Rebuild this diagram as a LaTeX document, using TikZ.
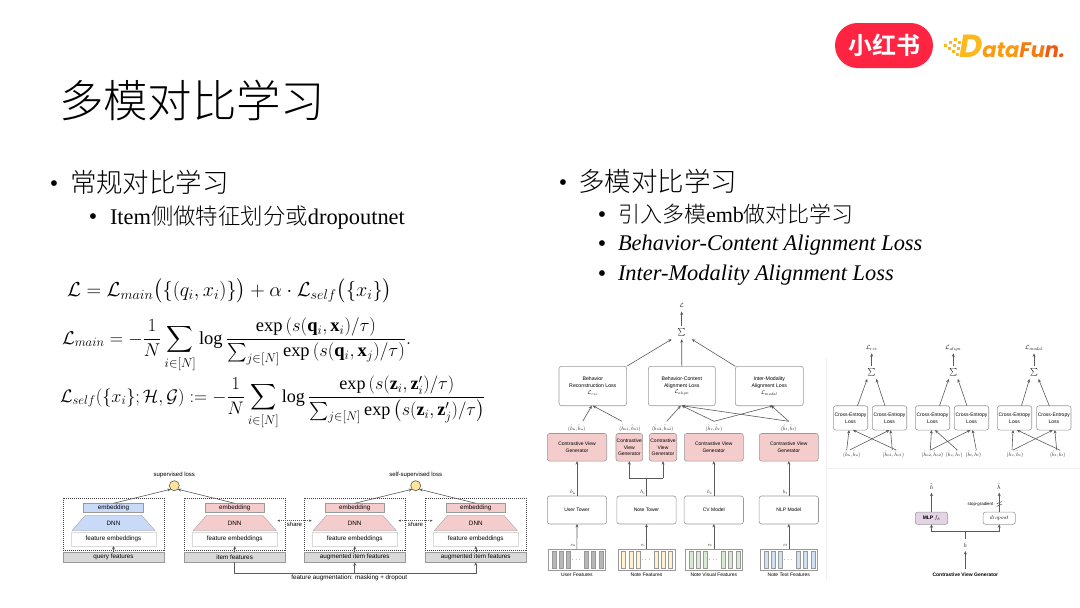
\documentclass[tikz,border=0pt]{standalone}
\usepackage{amsmath}
\usepackage{fontspec}
\setmainfont{Liberation Serif}
\newfontfamily\cjk{Noto Sans CJK SC Light}
\newfontfamily\cjkbold{Noto Sans CJK SC Bold}
\newfontfamily\diagramfont{Liberation Sans}
\newfontfamily\logofont{Poppins}
\usetikzlibrary{positioning,arrows.meta,calc,shapes.geometric}
\definecolor{logoRed}{HTML}{FF2442}
\definecolor{logoGold}{HTML}{FBB91E}
\definecolor{logoAmber}{HTML}{F99A10}
\definecolor{logoOrange}{HTML}{F47B10}
\definecolor{logoDeep}{HTML}{EE5A10}
\definecolor{lineGray}{HTML}{5A5A5A}
\definecolor{boxGray}{HTML}{999999}
\definecolor{featGray}{HTML}{D9D9D9}
\definecolor{towerBlue}{HTML}{C9DAF8}
\definecolor{towerPink}{HTML}{F4CCCC}
\definecolor{lossYellow}{HTML}{FFE599}
\definecolor{mlpPurple}{HTML}{E3D3E4}
\definecolor{barGray}{HTML}{B7B7B7}
\definecolor{barYellow}{HTML}{FFF2CC}
\definecolor{barGreen}{HTML}{D9EAD3}
\definecolor{barBlue}{HTML}{CFE2F3}
\definecolor{rulePale}{HTML}{EFEFEF}
\newcommand{\smallmath}[2]{\scalebox{#1}{\fontsize{10}{12}\selectfont$#2$}}

\begin{document}
\begin{tikzpicture}[
  x=1pt,
  y=-1pt,
  every node/.style={inner sep=0pt, outer sep=0pt},
  title/.style={anchor=base west, font=\fontsize{44.4}{50}\selectfont\cjk},
  head/.style={anchor=base west, font=\fontsize{26.5}{30}\selectfont\cjk},
  sub/.style={anchor=base west, font=\fontsize{22.4}{26}\selectfont},
  dotmark/.style={anchor=center, font=\fontsize{24}{28}\selectfont},
  eqn/.style={anchor=west, font=\fontsize{17.28}{20}\selectfont, transform shape},
  tiny/.style={font=\fontsize{5}{6.8}\selectfont\diagramfont, align=center},
  small/.style={font=\fontsize{6}{7}\selectfont\diagramfont, align=center},
  mathlab/.style={font=\fontsize{10}{12}\selectfont, scale=0.5, transform shape},
  pairlab/.style={mathlab, minimum height=28pt},
  inlab/.style={mathlab, minimum height=17pt},
  losslab/.style={font=\fontsize{10}{12}\selectfont, scale=0.6, transform shape, minimum height=17pt},
  sumsign/.style={font=\fontsize{10}{12}\selectfont, scale=0.75, transform shape},
  embed/.style={draw=boxGray, line width=0.6pt, minimum width=59.7pt, minimum height=9pt, font=\fontsize{6.3}{7.6}\selectfont\diagramfont},
  dnn/.style={trapezium, trapezium stretches=true, trapezium left angle=53, trapezium right angle=53, draw=boxGray, line width=0.3pt,
    minimum width=83.3pt, minimum height=15.4pt, font=\fontsize{6.3}{7.6}\selectfont\diagramfont},
  featemb/.style={draw=featGray, fill=white, line width=0.7pt, minimum width=85pt, minimum height=13.7pt, font=\fontsize{6.3}{7.6}\selectfont\diagramfont},
  input/.style={draw=boxGray, fill=featGray, line width=0.4pt, minimum width=100.7pt, minimum height=10pt, font=\fontsize{6.3}{7.6}\selectfont\diagramfont},
  dashbox/.style={draw=black!75, dashed, dash pattern=on 1pt off 1pt, line width=0.5pt, minimum width=100.7pt, minimum height=52.3pt},
  lossdot/.style={circle, draw=lineGray, fill=lossYellow, line width=0.6pt, minimum size=10pt},
  rbox/.style={rounded corners=2.5pt, draw=boxGray, fill=white, line width=0.6pt, align=center, font=\fontsize{5}{6.8}\selectfont\diagramfont},
  genbox/.style={rounded corners=2.5pt, draw=boxGray, fill=towerPink, line width=0.6pt, align=center, minimum height=27.7pt, font=\fontsize{5}{6.8}\selectfont\diagramfont},
  losspanel/.style={rbox, minimum height=39.4pt, font=\fontsize{5.2}{6.8}\selectfont\diagramfont},
  towerbox/.style={rbox, minimum width=59.3pt, minimum height=28pt},
  cebox/.style={rbox, minimum width=34.4pt, minimum height=24.3pt},
  featbox/.style={draw=boxGray, fill=white, line width=0.6pt, minimum width=57.4pt, minimum height=20.7pt},
  arrow/.style={-{Stealth[length=3.4pt,width=3pt]}, line width=0.6pt, draw=lineGray},
  link/.style={line width=0.6pt, draw=lineGray},
  sharearrow/.style={{Stealth[length=2.5pt,width=2.2pt]}-{Stealth[length=2.5pt,width=2.2pt]}, dashed, dash pattern=on 1pt off 1pt, line width=0.5pt, draw=lineGray}
]
\useasboundingbox (0,0) rectangle (1080,608);

\node[rounded corners=22.5pt, fill=logoRed, minimum width=98pt, minimum height=45pt, text=white, font=\fontsize{24}{28}\selectfont\cjkbold] (redlogo) at (884,45.5) {小红书};
\node[anchor=base west, font=\fontsize{21}{28}\selectfont\logofont\bfseries\itshape] (datalogo) at (959,57) {\textcolor{logoGold}{\fontsize{32}{28}\selectfont D}\textcolor{logoAmber}{a}\textcolor{logoAmber}{t}\textcolor{logoAmber}{a}\textcolor{logoOrange}{F}\textcolor{logoOrange}{u}\textcolor{logoDeep}{n}\textcolor{logoDeep}{.}};
\foreach \dotx/\doty in {944/44,949/41,954/38,948/47,953/44,958/41,952/50,957/47,956/53}
  \fill[logoGold] (\dotx,\doty) rectangle ++(2.8,2.8);

\node[title] (pagetitle) at (59,117) {多模对比学习};

\node[dotmark] (dotL) at (54,186.5) {•};
\node[head] (headL) at (70,192) {常规对比学习};
\node[dotmark] (dotLa) at (93,219.5) {•};
\node[sub] (subL) at (110,224) {Item{\cjk 侧做特征划分或}dropoutnet};

\node[dotmark] (dotR) at (563,185.5) {•};
\node[head] (headR) at (578,191) {多模对比学习};
\node[dotmark] (dotRa) at (602,217.5) {•};
\node[sub, font=\fontsize{22}{26}\selectfont] (subRa) at (618,222) {{\cjk 引入多模}emb{\cjk 做对比学习}};
\node[dotmark] (dotRb) at (602,246.5) {•};
\node[sub] (subRb) at (618,250) {\itshape Behavior-Content Alignment Loss};
\node[dotmark] (dotRc) at (602,276.5) {•};
\node[sub] (subRc) at (618,280) {\itshape Inter-Modality Alignment Loss};

\node[eqn, scale=1.17] (eqA) at (67,291) {$\displaystyle \mathcal{L}=\mathcal{L}_{main}\bigl(\{(q_i,x_i)\}\bigr)+\alpha\cdot\mathcal{L}_{self}\bigl(\{x_i\}\bigr)$};
\node[eqn, scale=1.07] (eqB) at (62,345) {$\displaystyle \mathcal{L}_{main}=-\frac{1}{N}\sum_{i\in[N]}\log\frac{\exp\left(s(\mathbf{q}_i,\mathbf{x}_i)/\tau\right)}{\sum_{j\in[N]}\exp\left(s(\mathbf{q}_i,\mathbf{x}_j)/\tau\right)}.$};
\node[eqn, scale=1.05] (eqC) at (60,403) {$\displaystyle \mathcal{L}_{self}(\{x_i\};\mathcal{H},\mathcal{G}):=-\frac{1}{N}\sum_{i\in[N]}\log\frac{\exp\left(s(\mathbf{z}_i,\mathbf{z}'_i)/\tau\right)}{\sum_{j\in[N]}\exp\left(s(\mathbf{z}_i,\mathbf{z}'_j)/\tau\right)}$};

\node[small] (suplab) at (174.3,475.3) {supervised loss};
\node[small] (selflab) at (415.7,475.3) {self-supervised loss};
\node[lossdot] (supdot) at (174.3,485.7) {};
\node[lossdot] (selfdot) at (415.7,485.7) {};

\foreach \tw/\cx/\tcol/\intext in {q/113.5/towerBlue/query features,i/234.7/towerPink/item features,a/354.7/towerPink/augmented item features,b/475.8/towerPink/augmented item features}{
  \node[dashbox] (box\tw) at (\cx,524.2) {};
  \node[embed, fill=\tcol] (emb\tw) at (\cx,507.8) {embedding};
  \node[dnn, fill=\tcol] (dnn\tw) at (\cx,523) {DNN};
  \node[featemb] (fe\tw) at (\cx,539.2) {feature embeddings};
  \node[input] (in\tw) at (\cx,557.3) {\intext};
  \draw[arrow] (in\tw.north) -- (fe\tw.south);
}

\draw[arrow] (embq.north) -- (supdot.south west);
\draw[arrow] (embi.north) -- (supdot.south east);
\draw[arrow] (emba.north) -- (selfdot.south west);
\draw[arrow] (embb.north) -- (selfdot.south east);

\coordinate (shareAl) at (277.3,520.7);
\coordinate (shareAr) at (311.7,520.7);
\coordinate (shareBl) at (398.3,520.7);
\coordinate (shareBr) at (432.7,520.7);
\draw[sharearrow] (shareAl) -- (shareAr);
\draw[sharearrow] (shareBl) -- (shareBr);
\node[small] (shareAlab) at (294.5,524.6) {share};
\node[small] (shareBlab) at (415.5,524.6) {share};

\coordinate (augturn) at (234.7,573.7);
\draw[link] (ini.south) -- (augturn) -- (augturn -| inb.south);
\draw[arrow] (augturn -| ina.south) -- (ina.south);
\draw[arrow] (augturn -| inb.south) -- (inb.south);
\node[small, font=\fontsize{6.3}{7}\selectfont\diagramfont] (auglab) at (349.3,577.5) {feature augmentation: masking + dropout};

\node[losslab, minimum height=22pt] (totalloss) at (681.7,305) {$\mathcal{L}$};
\node[sumsign, minimum width=27pt, minimum height=17.5pt] (sumtop) at (681.7,332.7) {$\sum$};
\node[losspanel, minimum width=67.7pt] (recon) at (592.8,386) {Behavior\\Reconstruction Loss\\\smallmath{0.55}{\mathcal{L}_{rec}}};
\node[losspanel, minimum width=67pt] (align) at (681.8,386) {Behavior-Content\\Alignment Loss\\\smallmath{0.55}{\mathcal{L}_{align}}};
\node[losspanel, minimum width=68pt] (modal) at (769.3,386) {Inter-Modality\\Alignment Loss\\\smallmath{0.55}{\mathcal{L}_{modal}}};

\draw[arrow] (sumtop.north) -- (totalloss.south);
\draw[arrow] (recon.north east) -- (sumtop.south west);
\draw[arrow] (align.north) -- (sumtop.south);
\draw[arrow] (modal.north west) -- (sumtop.south east);

\node[genbox, minimum width=59.4pt] (genU) at (577,447.3) {Contrastive View\\Generator};
\node[genbox, minimum width=26.7pt] (genA) at (629.3,447.3) {Contrastive\\View\\Generator};
\node[genbox, minimum width=27.4pt] (genB) at (663,447.3) {Contrastive\\View\\Generator};
\node[genbox, minimum width=59pt] (genV) at (713.8,447.3) {Contrastive View\\Generator};
\node[genbox, minimum width=59pt] (genT) at (788.8,447.3) {Contrastive View\\Generator};

\node[pairlab] (pairU) at (576.7,428.3) {$(\hat{h}_u,\tilde{h}_u)$};
\node[pairlab] (pairA) at (630,428.3) {$(\hat{h}_{n1},\tilde{h}_{n1})$};
\node[pairlab] (pairB) at (662.7,428.3) {$(\hat{h}_{n2},\tilde{h}_{n2})$};
\node[pairlab] (pairV) at (714,428.3) {$(\hat{h}_v,\tilde{h}_v)$};
\node[pairlab] (pairT) at (788.7,428.3) {$(\hat{h}_t,\tilde{h}_t)$};

\draw[arrow] ([xshift=6pt]pairU.north) -- ([xshift=-1pt]recon.south);
\draw[arrow] ([xshift=-8pt]pairA.north) -- (recon.south);
\draw[arrow] ([xshift=4pt]pairB.north) -- ([xshift=-1pt]align.south);
\draw[arrow] (pairV.north) -- (align.south);
\draw[arrow] (pairV.north) -- ([xshift=4pt]modal.south);
\draw[arrow] (pairT.north) -- (align.south);
\draw[arrow] (pairT.north) -- ([xshift=2pt]modal.south);

\node[towerbox] (towerU) at (577,510) {User Tower};
\node[towerbox] (towerN) at (646.5,510) {Note Tower};
\node[towerbox] (towerV) at (713.8,510) {CV Model};
\node[towerbox] (towerT) at (788.8,510) {NLP Model};

\coordinate (branch) at (646.5,478.3);
\draw[arrow] (towerU.north) -- (genU.south);
\draw[link] (towerN.north) -- (branch);
\draw[arrow] (branch -| genA.south) -- (genA.south);
\draw[arrow] (branch -| genB.south) -- (genB.south);
\draw[link] (branch -| genA.south) -- (branch -| genB.south);
\draw[arrow] (towerV.north) -- (genV.south);
\draw[arrow] (towerT.north) -- (genT.south);

\node[mathlab, anchor=east] (hU) at (575.5,492.3) {$h_u$};
\node[mathlab, anchor=east] (hN) at (645,492.3) {$h_i$};
\node[mathlab, anchor=east] (hV) at (712.5,492.3) {$h_v$};
\node[mathlab, anchor=east] (hT) at (787.5,492.3) {$h_t$};

\node[featbox] (featU) at (576.9,559.7) {};
\node[featbox] (featN) at (646.5,559.7) {};
\node[featbox] (featV) at (713.8,559.7) {};
\node[featbox] (featT) at (788.8,559.7) {};
\foreach \feat/\barcol in {featU/barGray,featN/barYellow,featV/barGreen,featT/barBlue}{
  \node[font=\fontsize{6}{7}\selectfont] (\feat dots) at (\feat.center) {$\cdots$};
  \foreach \off in {3.7,11,18.3,36,43.3,50.7}
    \draw[draw=boxGray, fill=\barcol, line width=0.35pt] ($(\feat.west)+(\off,-8.2)$) rectangle ++(4,16.4);
}

\draw[arrow] (featU.north) -- (towerU.south);
\draw[arrow] (featN.north) -- (towerN.south);
\draw[arrow] (featV.north) -- (towerV.south);
\draw[arrow] (featT.north) -- (towerT.south);

\node[mathlab, anchor=east] (eU) at (575.5,545.5) {$e_u$};
\node[mathlab, anchor=east] (eN) at (645,545.5) {$e_i$};
\node[mathlab, anchor=east] (eV) at (712.5,545.5) {$e_v$};
\node[mathlab, anchor=east] (eT) at (787.5,545.5) {$e_t$};

\node[tiny] (featUlab) at (576.9,575) {User Features};
\node[tiny] (featNlab) at (646.5,575) {Note Features};
\node[tiny] (featVlab) at (713.8,575) {Note Visual Features};
\node[tiny] (featTlab) at (788.8,575) {Note Text Features};

\coordinate (ruleTop) at (826.5,358);
\coordinate (ruleBot) at (826.5,580);
\coordinate (ruleMid) at (826.5,468.3);
\coordinate (ruleEnd) at (1080,468.3);
\draw[rulePale, line width=0.8pt] (ruleTop) -- (ruleBot);
\draw[rulePale, line width=0.8pt] (ruleMid) -- (ruleEnd);

\foreach \gr/\cx/\tx in {A/871.7/rec,B/953.3/align,C/1034/modal}{
  \node[losslab] (loss\gr) at (\cx,348.3) {$\mathcal{L}_{\tx}$};
  \node[sumsign, minimum width=12pt, minimum height=16.8pt] (sum\gr) at (\cx,372.7) {$\sum$};
  \draw[arrow] (sum\gr.north) -- (loss\gr.south);
}

\node[cebox] (ceAa) at (850.5,417.9) {Cross-Entropy\\Loss};
\node[cebox] (ceAb) at (889.5,417.9) {Cross-Entropy\\Loss};
\node[cebox] (ceBa) at (932.5,417.9) {Cross-Entropy\\Loss};
\node[cebox] (ceBb) at (971.5,417.9) {Cross-Entropy\\Loss};
\node[cebox] (ceCa) at (1014.5,417.9) {Cross-Entropy\\Loss};
\node[cebox] (ceCb) at (1053.8,417.9) {Cross-Entropy\\Loss};

\foreach \gr in {A,B,C}{
  \draw[arrow] ([xshift=7pt]ce\gr a.north) -- (sum\gr.south west);
  \draw[arrow] ([xshift=-4.5pt]ce\gr b.north) -- (sum\gr.south east);
}

\node[inlab] (inAa) at (851.7,454.3) {$(\hat{h}_u,\tilde{h}_u)$};
\node[inlab] (inAb) at (893.3,454.3) {$(\hat{h}_{n1},\tilde{h}_{n1})$};
\node[inlab] (inBa) at (932.3,454.3) {$(\hat{h}_{n2},\tilde{h}_{n2})$};
\node[inlab] (inBb) at (954.3,454.3) {$(\hat{h}_v,\tilde{h}_v)$};
\node[inlab] (inBc) at (973.3,454.3) {$(\hat{h}_t,\tilde{h}_t)$};
\node[inlab] (inCa) at (1015,454.3) {$(\hat{h}_v,\tilde{h}_v)$};
\node[inlab] (inCb) at (1057.7,454.3) {$(\hat{h}_t,\tilde{h}_t)$};

\draw[arrow] ([xshift=-5pt]inAa.north) -- ([xshift=-1.5pt]ceAa.south);
\draw[arrow] ([xshift=-2pt]inAa.north) -- (ceAb.south);
\draw[arrow] ([xshift=3pt]inAb.north) -- ([xshift=2.5pt]ceAa.south);
\draw[arrow] ([xshift=-1pt]inAb.north) -- ([xshift=1pt]ceAb.south);
\draw[arrow] ([xshift=-2pt]inBa.north) -- ([xshift=-1pt]ceBa.south);
\draw[arrow] ([xshift=-2pt]inBa.north) -- ([xshift=-1pt]ceBb.south);
\draw[arrow] ([xshift=3pt]inBb.north) -- ([xshift=2.5pt]ceBa.south);
\draw[arrow] ([xshift=3pt]inBc.north) -- ([xshift=1pt]ceBb.south);
\draw[arrow] ([xshift=-3pt]inCa.north) -- ([xshift=-1.5pt]ceCa.south);
\draw[arrow] ([xshift=-2pt]inCa.north) -- ([xshift=-1pt]ceCb.south);
\draw[arrow] ([xshift=2pt]inCb.north) -- ([xshift=2.5pt]ceCa.south);
\draw[arrow] ([xshift=-1pt]inCb.north) -- ([xshift=1pt]ceCb.south);

\node[rbox, fill=mlpPurple, minimum width=32.4pt, minimum height=12.3pt, font=\fontsize{5}{6}\selectfont\diagramfont\bfseries] (mlp) at (931.5,518.2) {MLP \smallmath{0.55}{f_h}};
\node[rbox, minimum width=32.3pt, minimum height=12.3pt] (dropbox) at (999.2,518.2) {\smallmath{0.55}{dropout}};
\node[losslab, minimum height=20pt] (htilde) at (931.5,486.7) {$\tilde{h}$};
\node[losslab, minimum height=20pt] (hhat) at (999.2,486.7) {$\hat{h}$};
\node[losslab, minimum height=20pt] (hin) at (965.3,545) {$h$};
\node[tiny, font=\fontsize{4.4}{5}\selectfont\diagramfont] (stoplab) at (980.5,504.3) {stop-gradient};
\node[tiny, font=\fontsize{5}{6}\selectfont\diagramfont\bfseries] (genlab) at (965.3,575) {Contrastive View Generator};
\coordinate (genstart) at (965.3,569);
\coordinate (fork) at (965.3,531.7);
\coordinate (stopcut) at (999.2,504);

\draw[arrow] (mlp.north) -- (htilde.south);
\draw[arrow] (dropbox.north) -- (hhat.south);
\draw[link] ([shift={(-2.5,-0.2)}]stopcut) -- ([shift={(2.5,-2.4)}]stopcut);
\draw[link] ([shift={(-2.5,2.4)}]stopcut) -- ([shift={(2.5,0.2)}]stopcut);
\draw[link] (fork) -- (hin.north);
\draw[link] (fork -| mlp.south) -- (fork -| dropbox.south);
\draw[arrow] (fork -| mlp.south) -- (mlp.south);
\draw[arrow] (fork -| dropbox.south) -- (dropbox.south);
\draw[arrow] (genstart) -- (hin.south);
\end{tikzpicture}
\end{document}
